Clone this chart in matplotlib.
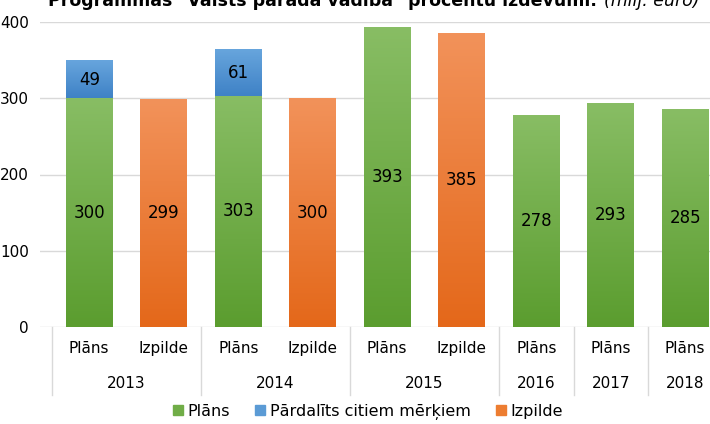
import matplotlib
matplotlib.use("Agg")
import matplotlib.pyplot as plt
from matplotlib.colors import LinearSegmentedColormap
from matplotlib.patches import Patch
import matplotlib.transforms as mtransforms
import numpy as np

# data
categories = ["Plāns", "Izpilde", "Plāns", "Izpilde", "Plāns", "Izpilde", "Plāns", "Plāns", "Plāns"]
years = ["2013", "2014", "2015", "2016", "2017", "2018"]
year_slots = [(0, 1), (2, 3), (4, 5), (6, 6), (7, 7), (8, 8)]
plans = [300, None, 303, None, 393, None, 278, 293, 285]
reallocated = [49, None, 61, None, None, None, None, None, None]
execution = [None, 299, None, 300, None, 385, None, None, None]

green = ("#88bd64", "#5b9d2f")
blue = ("#67a5dd", "#3f82c6")
orange = ("#f2925a", "#e4681a")

plt.rcParams["font.family"] = ["DejaVu Sans"]

fig = plt.figure(figsize=(7.1, 4.24), dpi=100)
ax = fig.add_axes([40 / 710, (424 - 327) / 424, 670 / 710, 305 / 424])

bar_w = 0.63


def grad_bar(x, bottom, height, colors):
    cmap = LinearSegmentedColormap.from_list("g", [colors[1], colors[0]])
    img = np.linspace(0, 1, 100).reshape(-1, 1)
    ax.imshow(img, extent=(x - bar_w / 2, x + bar_w / 2, bottom, bottom + height),
              origin="lower", cmap=cmap, aspect="auto", zorder=2)


for i in range(len(categories)):
    if plans[i] is not None:
        grad_bar(i, 0, plans[i], green)
        ax.text(i, plans[i] / 2, str(plans[i]), ha="center", va="center", fontsize=12, zorder=3)
        if reallocated[i] is not None:
            grad_bar(i, plans[i], reallocated[i], blue)
            ax.text(i, plans[i] + reallocated[i] / 2, str(reallocated[i]),
                    ha="center", va="center", fontsize=12, zorder=3)
    if execution[i] is not None:
        grad_bar(i, 0, execution[i], orange)
        ax.text(i, execution[i] / 2, str(execution[i]), ha="center", va="center", fontsize=12, zorder=3)

ax.set_xlim(-0.5 - 12 / 74.5, -0.5 + 658 / 74.5)
ax.set_ylim(0, 400)
ax.set_yticks([0, 100, 200, 300, 400])
ax.grid(axis="y", color="#d9d9d9", linewidth=1)
ax.set_axisbelow(True)
for s in ax.spines.values():
    s.set_visible(False)
ax.tick_params(axis="y", length=0, labelsize=11, pad=8)
ax.tick_params(axis="x", length=0, labelsize=11, pad=10)
ax.set_xticks(range(len(categories)))
ax.set_xticklabels(categories)

trans = mtransforms.blended_transform_factory(ax.transData, ax.transAxes)
for y, (a, b) in zip(years, year_slots):
    ax.text((a + b) / 2, -56 / 305, y, transform=trans, ha="center", va="center",
            fontsize=11, clip_on=False)
for xb in [-0.5, 1.5, 3.5, 5.5, 6.5, 7.5]:
    ax.plot([xb, xb], [0, -68 / 305], transform=trans, color="#d9d9d9",
            linewidth=1, clip_on=False)

handles = [Patch(color="#70ad47", label="Plāns"),
           Patch(color="#5b9bd5", label="Pārdalīts citiem mērķiem"),
           Patch(color="#ed7d31", label="Izpilde")]
fig.legend(handles=handles, loc="center", bbox_to_anchor=(368 / 710, 1 - 412 / 424),
           ncol=3, frameon=False, fontsize=11.5, handlelength=0.6, handleheight=0.6,
           handletextpad=0.3, columnspacing=1.6)

# title is partly cut off at the top edge, as in the source image
fig.text(597 / 710, 1 - 6 / 424, "Programmas \"Valsts parāda vadība\" procentu izdevumi.",
         ha="right", va="baseline", fontsize=12.5, fontweight="bold")
fig.text(604 / 710, 1 - 6 / 424, "(milj. euro)", ha="left", va="baseline",
         fontsize=12.5, style="italic")

fig.savefig("out.png", dpi=100)
